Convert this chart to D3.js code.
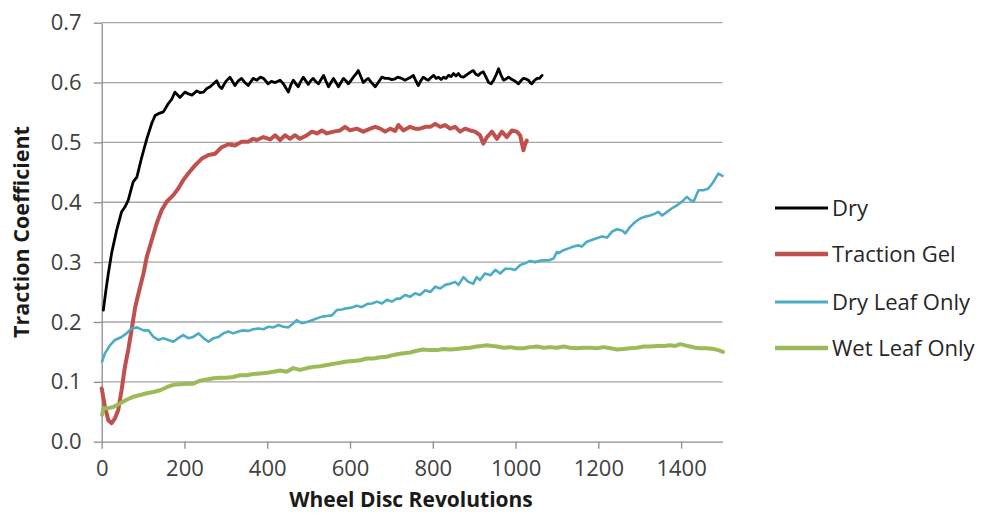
<!DOCTYPE html>
<html>
<head>
<meta charset="utf-8">
<script src="https://cdn.jsdelivr.net/npm/d3@7"></script>
<style>
  html, body { margin: 0; padding: 0; background: #ffffff; }
  svg { display: block; }
  text { font-family: "Open Sans", "Liberation Sans", sans-serif; }
</style>
</head>
<body>
<svg id="chart" width="985" height="515"></svg>
<script>
// ---- data ----
const seriesNames = ["Dry", "Traction Gel", "Dry Leaf Only", "Wet Leaf Only"];
const xTicks = [0, 200, 400, 600, 800, 1000, 1200, 1400];
const yTicks = [0, 0.1, 0.2, 0.3, 0.4, 0.5, 0.6, 0.7];

const dry = [
[4,0.220],[10,0.252],[16,0.281],[24,0.315],[36,0.353],[48,0.384],[56,0.392],[64,0.403],[76,0.434],[85,0.442],[97,0.476],[109,0.506],[121,0.532],[129,0.545],[137,0.548],[149,0.551],[161,0.565],[169,0.572],[177,0.584],[189,0.575],[201,0.584],[210,0.581],[218,0.579],[230,0.586],[238,0.583],[246,0.584],[254,0.590],[262,0.593],[270,0.598],[278,0.603],[284,0.594],[290,0.590],[300,0.602],[310,0.609],[322,0.595],[330,0.603],[338,0.607],[346,0.600],[354,0.595],[366,0.607],[375,0.604],[383,0.609],[391,0.607],[402,0.598],[410,0.602],[419,0.600],[431,0.604],[439,0.598],[451,0.584],[457,0.596],[463,0.604],[469,0.598],[475,0.593],[481,0.602],[487,0.609],[499,0.597],[505,0.603],[511,0.607],[518,0.601],[524,0.598],[530,0.605],[536,0.612],[542,0.602],[548,0.593],[554,0.600],[560,0.607],[566,0.600],[572,0.593],[578,0.600],[584,0.607],[590,0.603],[596,0.598],[602,0.603],[608,0.609],[614,0.614],[620,0.620],[626,0.610],[632,0.600],[638,0.604],[644,0.607],[652,0.600],[661,0.593],[669,0.601],[677,0.609],[685,0.607],[693,0.607],[701,0.605],[709,0.606],[715,0.609],[725,0.607],[733,0.604],[741,0.607],[747,0.609],[753,0.612],[759,0.603],[765,0.595],[771,0.603],[777,0.609],[783,0.606],[789,0.604],[795,0.608],[802,0.612],[808,0.607],[814,0.609],[820,0.605],[826,0.609],[832,0.607],[838,0.612],[844,0.610],[850,0.615],[856,0.611],[862,0.615],[868,0.610],[874,0.609],[880,0.612],[886,0.615],[892,0.618],[898,0.620],[904,0.614],[910,0.612],[916,0.616],[922,0.618],[928,0.610],[935,0.600],[941,0.598],[947,0.604],[953,0.613],[959,0.623],[965,0.612],[971,0.604],[977,0.606],[983,0.609],[989,0.606],[995,0.604],[1001,0.601],[1007,0.598],[1013,0.603],[1019,0.607],[1025,0.606],[1031,0.604],[1035,0.600],[1039,0.598],[1045,0.603],[1052,0.607],[1058,0.607],[1064,0.612]
];

const gel = [
[0,0.089],[8,0.058],[16,0.036],[24,0.031],[32,0.039],[40,0.053],[48,0.086],[56,0.125],[64,0.153],[72,0.186],[81,0.225],[89,0.248],[101,0.281],[109,0.309],[121,0.337],[133,0.365],[145,0.387],[157,0.401],[173,0.412],[185,0.423],[197,0.437],[209,0.448],[226,0.462],[242,0.473],[258,0.479],[274,0.481],[290,0.492],[306,0.497],[322,0.495],[338,0.501],[354,0.501],[366,0.506],[375,0.504],[391,0.509],[407,0.505],[419,0.512],[431,0.504],[443,0.512],[455,0.506],[467,0.512],[479,0.506],[496,0.512],[508,0.518],[520,0.515],[532,0.520],[544,0.515],[560,0.518],[576,0.520],[588,0.526],[600,0.520],[616,0.523],[632,0.518],[649,0.523],[661,0.526],[673,0.523],[685,0.518],[697,0.523],[709,0.519],[717,0.529],[729,0.520],[745,0.526],[757,0.523],[769,0.523],[782,0.526],[794,0.526],[806,0.531],[818,0.526],[830,0.529],[842,0.523],[854,0.526],[866,0.518],[878,0.523],[890,0.520],[902,0.518],[914,0.512],[922,0.498],[931,0.509],[943,0.518],[955,0.506],[967,0.518],[979,0.509],[991,0.520],[1003,0.518],[1011,0.512],[1019,0.487],[1023,0.497],[1027,0.503]
];

const dryLeaf = [
[1,0.134],[8,0.148],[20,0.161],[32,0.170],[48,0.175],[60,0.181],[72,0.189],[85,0.191],[101,0.186],[113,0.186],[125,0.175],[137,0.170],[149,0.173],[161,0.170],[173,0.167],[185,0.173],[197,0.178],[209,0.173],[221,0.175],[234,0.181],[246,0.173],[258,0.167],[270,0.173],[282,0.175],[294,0.181],[306,0.184],[318,0.181],[330,0.184],[342,0.186],[354,0.185],[366,0.188],[379,0.189],[391,0.188],[403,0.192],[415,0.191],[427,0.195],[439,0.192],[451,0.191],[463,0.198],[471,0.203],[483,0.198],[496,0.200],[508,0.203],[520,0.206],[532,0.209],[544,0.210],[556,0.211],[568,0.220],[580,0.221],[592,0.223],[604,0.224],[616,0.227],[628,0.225],[641,0.230],[653,0.231],[665,0.234],[677,0.231],[689,0.237],[701,0.234],[713,0.239],[721,0.239],[733,0.245],[745,0.242],[757,0.248],[769,0.245],[782,0.253],[794,0.250],[806,0.259],[818,0.256],[830,0.262],[842,0.264],[854,0.267],[862,0.262],[874,0.275],[886,0.267],[898,0.264],[906,0.275],[914,0.270],[926,0.281],[939,0.278],[951,0.287],[963,0.281],[975,0.289],[987,0.289],[999,0.287],[1011,0.295],[1023,0.298],[1035,0.302],[1047,0.300],[1064,0.303],[1080,0.303],[1092,0.306],[1100,0.317],[1104,0.315],[1116,0.320],[1128,0.323],[1140,0.326],[1152,0.328],[1160,0.326],[1172,0.334],[1184,0.337],[1196,0.340],[1209,0.343],[1221,0.341],[1233,0.351],[1245,0.355],[1257,0.353],[1265,0.348],[1277,0.359],[1289,0.367],[1301,0.373],[1313,0.376],[1325,0.378],[1337,0.381],[1345,0.384],[1354,0.378],[1366,0.384],[1378,0.390],[1390,0.395],[1402,0.401],[1414,0.409],[1422,0.404],[1430,0.401],[1442,0.420],[1454,0.420],[1466,0.423],[1478,0.434],[1490,0.448],[1500,0.444]
];

const wetLeaf = [
[1,0.045],[4,0.056],[16,0.056],[28,0.058],[44,0.064],[60,0.070],[76,0.075],[93,0.078],[109,0.081],[125,0.083],[141,0.086],[157,0.091],[173,0.095],[189,0.096],[205,0.097],[221,0.097],[238,0.102],[254,0.104],[270,0.106],[286,0.107],[302,0.107],[318,0.108],[334,0.111],[350,0.111],[366,0.113],[383,0.114],[399,0.115],[415,0.117],[431,0.119],[447,0.117],[463,0.123],[479,0.120],[496,0.123],[512,0.125],[528,0.126],[544,0.128],[560,0.130],[576,0.132],[592,0.134],[608,0.135],[624,0.136],[641,0.139],[657,0.139],[673,0.141],[689,0.142],[705,0.145],[721,0.147],[745,0.149],[761,0.152],[777,0.154],[793,0.153],[810,0.153],[826,0.155],[842,0.154],[858,0.155],[874,0.156],[890,0.157],[906,0.159],[918,0.160],[931,0.161],[943,0.160],[955,0.159],[971,0.157],[987,0.158],[1003,0.156],[1019,0.156],[1035,0.158],[1052,0.159],[1068,0.157],[1084,0.158],[1100,0.157],[1116,0.159],[1132,0.157],[1148,0.156],[1164,0.157],[1180,0.157],[1196,0.156],[1213,0.158],[1229,0.156],[1245,0.154],[1261,0.155],[1277,0.156],[1293,0.157],[1309,0.159],[1325,0.159],[1342,0.160],[1358,0.160],[1374,0.161],[1386,0.160],[1398,0.163],[1410,0.161],[1422,0.159],[1434,0.157],[1446,0.156],[1462,0.156],[1478,0.155],[1490,0.153],[1501,0.150]
];

// ---- styling / layout ----
const colors = ["#000000", "#c0504d", "#4bacc6", "#9bbb59"];
const widths = [2.8, 4, 2.6, 4];
const allSeries = [dry, gel, dryLeaf, wetLeaf];

const svg = d3.select("#chart");
const x = d3.scaleLinear().domain([0, 1500]).range([101.7, 722.5]);
const y = d3.scaleLinear().domain([0, 0.7]).range([441.7, 22.7]);

// gridlines
svg.append("g").selectAll("line")
  .data(yTicks.filter(d => d > 0))
  .join("line")
  .attr("x1", x(0)).attr("x2", x(1500))
  .attr("y1", d => y(d)).attr("y2", d => y(d))
  .attr("stroke", "#a6a6a6").attr("stroke-width", 1.3);

// y axis
const yAxis = svg.append("g")
  .attr("transform", `translate(${x(0)},0)`)
  .call(d3.axisLeft(y).tickValues(yTicks).tickFormat(d3.format(".1f"))
    .tickSize(8).tickSizeOuter(0).tickPadding(12));
yAxis.select(".domain").attr("stroke", "#8c8c8c").attr("stroke-width", 1.3);
yAxis.selectAll(".tick line").attr("stroke", "#8c8c8c").attr("stroke-width", 1.3);
yAxis.selectAll(".tick text").attr("font-size", 22).attr("fill", "#404040")
  .attr("font-family", "'Open Sans', sans-serif");

// x axis
const xAxis = svg.append("g")
  .attr("transform", `translate(0,${y(0)})`)
  .call(d3.axisBottom(x).tickValues(xTicks).tickFormat(d3.format("d"))
    .tickSize(7).tickSizeOuter(0).tickPadding(12));
xAxis.select(".domain").attr("stroke", "#8c8c8c").attr("stroke-width", 1.3);
xAxis.selectAll(".tick line").attr("stroke", "#8c8c8c").attr("stroke-width", 1.3);
xAxis.selectAll(".tick text").attr("font-size", 22).attr("fill", "#404040")
  .attr("font-family", "'Open Sans', sans-serif");

// series lines
const line = d3.line().x(d => x(d[0])).y(d => y(d[1]));
svg.append("g").selectAll("path")
  .data(allSeries.map((s, i) => ({ s, i })))
  .join("path")
  .attr("d", d => line(d.s))
  .attr("fill", "none")
  .attr("stroke", d => colors[d.i])
  .attr("stroke-width", d => widths[d.i])
  .attr("stroke-linejoin", "round")
  .attr("stroke-linecap", "round");

// axis titles
svg.append("text")
  .attr("x", 411).attr("y", 507)
  .attr("text-anchor", "middle")
  .attr("font-size", 21).attr("font-weight", "bold").attr("fill", "#1a1a1a")
  .text("Wheel Disc Revolutions");

svg.append("text")
  .attr("transform", "translate(29,232) rotate(-90)")
  .attr("text-anchor", "middle")
  .attr("font-size", 21.5).attr("font-weight", "bold").attr("fill", "#1a1a1a")
  .text("Traction Coefficient");

// legend
const legendY = [208, 254, 302, 348];
const lg = svg.append("g").selectAll("g")
  .data(seriesNames.map((n, i) => ({ n, i })))
  .join("g")
  .attr("transform", d => `translate(0,${legendY[d.i]})`);
lg.append("line")
  .attr("x1", 775).attr("x2", 828).attr("y1", 0).attr("y2", 0)
  .attr("stroke", d => colors[d.i])
  .attr("stroke-width", d => d.i % 2 === 1 ? 4.5 : 3);
lg.append("text")
  .attr("x", 832).attr("y", 0).attr("dy", "0.35em")
  .attr("font-size", 22).attr("fill", "#262626")
  .text(d => d.n);
</script>
</body>
</html>
